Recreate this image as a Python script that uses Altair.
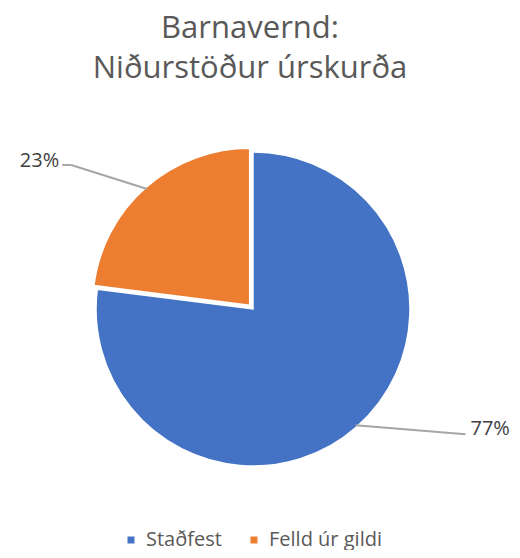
import altair as alt
import pandas as pd

# ---- data ----
categories = ["Staðfest", "Felld úr gildi"]
values = [77, 23]
colors = ["#4472C4", "#ED7D31"]
title_lines = ["Barnavernd:", "Niðurstöður úrskurða"]

# ---- layout / style ----
W, H = 484, 432
PT = 110
CX, CY, R = 245, 191, 157
FONT = "Open Sans"
EXPLODE = {"Felld úr gildi": 5}
# elbow dx, elbow dy, horizontal tail (pixels) for each leader line
LEADER = {"Staðfest": (110, 9, 0), "Felld úr gildi": (-76, -24, -9)}


def case_expr(mapping, pick, default=0):
    expr = str(default)
    for k, v in mapping.items():
        expr = f"datum.category === '{k}' ? {pick(v)} : ({expr})"
    return expr


df = pd.DataFrame({"category": categories, "value": values})

base = (
    alt.Chart(df)
    .transform_joinaggregate(total="sum(value)")
    .transform_window(cum="sum(value)", frame=[None, 0])
    .transform_calculate(
        a1="2*PI*datum.cum/datum.total",
        a0="2*PI*(datum.cum-datum.value)/datum.total",
        mid="PI*(2*datum.cum-datum.value)/datum.total",
        pct="format(datum.value/datum.total, '.0%')",
        e=case_expr(EXPLODE, lambda v: v),
        ldx=case_expr(LEADER, lambda v: v[0]),
        ldy=case_expr(LEADER, lambda v: v[1]),
        ltail=case_expr(LEADER, lambda v: v[2]),
    )
    .transform_calculate(
        cx=f"{CX}+datum.e*sin(datum.mid)",
        cy=f"{CY}-datum.e*cos(datum.mid)",
    )
    .transform_calculate(
        x0=f"datum.cx+{R - 2}*sin(datum.mid)",
        y0=f"datum.cy-{R - 2}*cos(datum.mid)",
    )
    .transform_calculate(
        x1="datum.x0+datum.ldx",
        y1="datum.y0+datum.ldy",
    )
    .transform_calculate(x2="datum.x1+datum.ltail")
)

xs = alt.Scale(domain=[0, W], range=[0, W], nice=False, zero=False)
ys = alt.Scale(domain=[0, H], range=[0, H], nice=False, zero=False)

arcs = base.mark_arc(radius=R, stroke="white", strokeWidth=1.5).encode(
    x=alt.X("cx:Q", scale=xs, axis=None),
    y=alt.Y("cy:Q", scale=ys, axis=None),
    theta=alt.Theta("a0:Q", scale=None),
    theta2=alt.Theta2("a1:Q"),
    color=alt.Color(
        "category:N",
        scale=alt.Scale(domain=categories, range=colors),
        legend=alt.Legend(
            title=None,
            orient="none",
            direction="horizontal",
            legendX=113,
            legendY=412,
            symbolType="square",
            symbolSize=49,
            symbolStrokeWidth=0,
            labelFont=FONT,
            labelFontSize=20,
            labelColor="#595959",
            labelOffset=5,
            columnPadding=22,
        ),
    ),
)

LINE = dict(color="#A6A6A6", strokeWidth=2)
seg1 = base.mark_rule(**LINE).encode(
    x=alt.X("x0:Q", scale=xs, axis=None),
    y=alt.Y("y0:Q", scale=ys, axis=None),
    x2="x1:Q",
    y2="y1:Q",
)
seg2 = base.mark_rule(**LINE).encode(
    x=alt.X("x1:Q", scale=xs, axis=None),
    y=alt.Y("y1:Q", scale=ys, axis=None),
    x2="x2:Q",
    y2="y1:Q",
)

text_right = base.transform_filter("sin(datum.mid) >= 0").mark_text(
    align="left", baseline="middle", font=FONT, fontSize=20, color="#404040", dx=5, dy=-5
).encode(
    x=alt.X("x2:Q", scale=xs, axis=None),
    y=alt.Y("y1:Q", scale=ys, axis=None),
    text="pct:N",
)
text_left = base.transform_filter("sin(datum.mid) < 0").mark_text(
    align="right", baseline="middle", font=FONT, fontSize=20, color="#404040", dx=-3, dy=-4
).encode(
    x=alt.X("x2:Q", scale=xs, axis=None),
    y=alt.Y("y1:Q", scale=ys, axis=None),
    text="pct:N",
)

chart = (
    alt.layer(arcs, seg1, seg2, text_right, text_left)
    .properties(
        width=W,
        height=H,
        title=alt.Title(
            title_lines,
            font=FONT,
            fontSize=31,
            fontWeight="normal",
            color="#595959",
            lineHeight=40,
            anchor="middle",
            offset=33,
        ),
        padding={"top": PT, "left": 0, "right": 20, "bottom": 0},
        autosize=alt.AutoSizeParams(type="none"),
    )
    .configure_view(stroke=None)
)

chart.save("out.html", embed_options={"renderer": "svg", "actions": False})
